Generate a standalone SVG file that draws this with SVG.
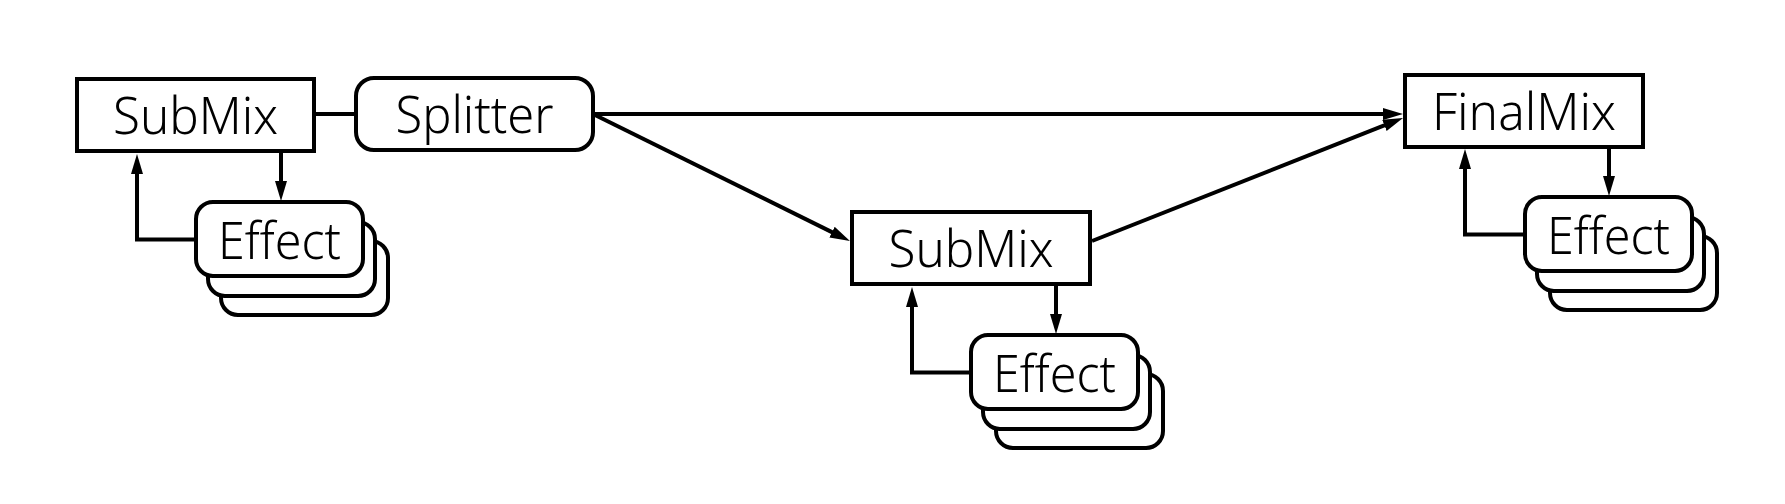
<svg xmlns="http://www.w3.org/2000/svg" width="1785" height="504" viewBox="0 0 1785 504">
<style>
.box{fill:#fff;stroke:#000;stroke-width:4}
.rbox{fill:#fff;stroke:#000;stroke-width:4}
.edge{fill:none;stroke:#000;stroke-width:4}
.lbl{font-family:"Noto Sans","Open Sans",sans-serif;font-size:52px;font-weight:300;fill:#000;text-anchor:middle}
</style>
<defs>
<marker id="ah" markerUnits="userSpaceOnUse" markerWidth="20" markerHeight="12" refX="10" refY="6" orient="auto">
<path d="M0,0 L20,6 L0,12 z" fill="#000"/>
</marker>
</defs>
<rect width="1785" height="504" fill="#fff"/>
<g id="connectors">
<line class="edge" x1="316" y1="114" x2="354" y2="114"/>
<line class="edge" x1="595" y1="114" x2="1393" y2="114" marker-end="url(#ah)"/>
<line class="edge" x1="595" y1="115" x2="841" y2="236.6" marker-end="url(#ah)"/>
<line class="edge" x1="1092" y1="241" x2="1393.7" y2="121.7" marker-end="url(#ah)"/>
<path class="edge" d="M195,239.5 H137 V164" marker-end="url(#ah)"/>
<path class="edge" d="M281,153 V191" marker-end="url(#ah)"/>
<path class="edge" d="M970,372.5 H912 V297" marker-end="url(#ah)"/>
<path class="edge" d="M1056,286 V324" marker-end="url(#ah)"/>
<path class="edge" d="M1523,234.5 H1465 V159" marker-end="url(#ah)"/>
<path class="edge" d="M1609,148 V186" marker-end="url(#ah)"/>
</g>
<g id="submix1">
<rect class="box" x="77" y="79" width="237" height="72"/>
<text class="lbl" x="195.5" y="134" textLength="165" lengthAdjust="spacingAndGlyphs">SubMix</text>
</g>
<g id="splitter">
<rect class="rbox" x="356" y="78" width="237" height="72" rx="18"/>
<text class="lbl" x="474.5" y="133" textLength="158" lengthAdjust="spacingAndGlyphs">Splitter</text>
</g>
<g id="finalmix">
<rect class="box" x="1405" y="75" width="238" height="72"/>
<text class="lbl" x="1524" y="130" textLength="184" lengthAdjust="spacingAndGlyphs">FinalMix</text>
</g>
<g id="submix2">
<rect class="box" x="852" y="212" width="238" height="72"/>
<text class="lbl" x="971" y="267" textLength="165" lengthAdjust="spacingAndGlyphs">SubMix</text>
</g>
<g id="effect1">
<rect class="rbox" x="221" y="241" width="167" height="74" rx="17"/>
<rect class="rbox" x="208" y="222" width="167" height="74" rx="17"/>
<rect class="rbox" x="196" y="202" width="167" height="74" rx="17"/>
<text class="lbl" x="279.5" y="258.5" textLength="123" lengthAdjust="spacingAndGlyphs">Effect</text>
</g>
<g id="effect2">
<rect class="rbox" x="996" y="374" width="167" height="74" rx="17"/>
<rect class="rbox" x="983" y="355" width="167" height="74" rx="17"/>
<rect class="rbox" x="971" y="335" width="167" height="74" rx="17"/>
<text class="lbl" x="1054.5" y="391.5" textLength="123" lengthAdjust="spacingAndGlyphs">Effect</text>
</g>
<g id="effect3">
<rect class="rbox" x="1550" y="236" width="167" height="74" rx="17"/>
<rect class="rbox" x="1537" y="217" width="167" height="74" rx="17"/>
<rect class="rbox" x="1525" y="197" width="167" height="74" rx="17"/>
<text class="lbl" x="1608.5" y="253.5" textLength="123" lengthAdjust="spacingAndGlyphs">Effect</text>
</g>
</svg>
